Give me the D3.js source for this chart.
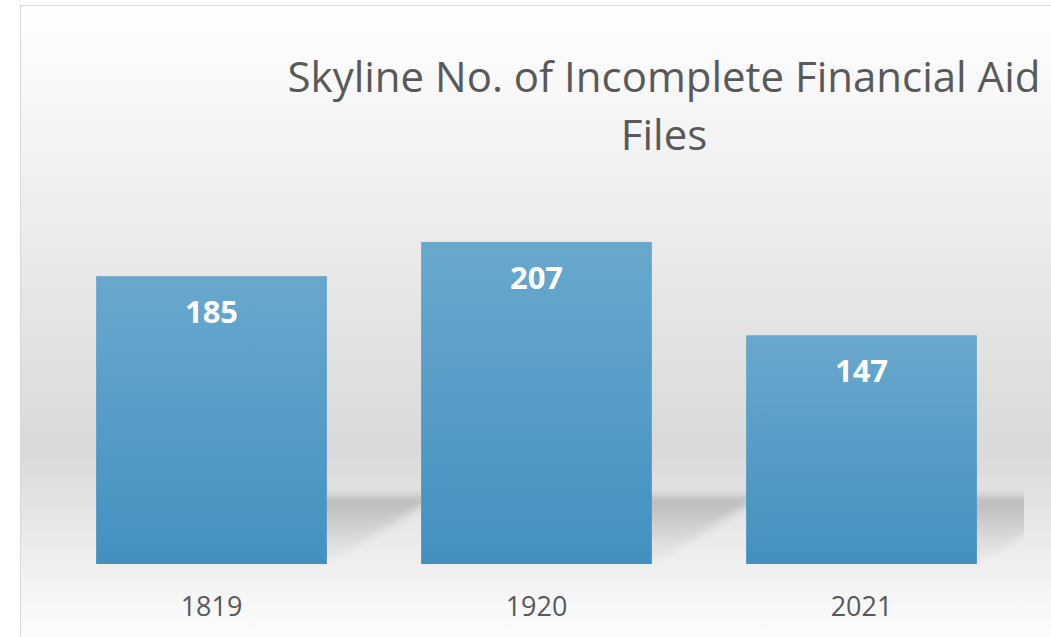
<!DOCTYPE html>
<html>
<head>
<meta charset="utf-8">
<script src="https://cdn.jsdelivr.net/npm/d3@7"></script>
<style>
  html, body { margin: 0; padding: 0; background: #fff; overflow: hidden; }
  svg { display: block; }
</style>
</head>
<body>
<div class="viz"></div>
<script>
// chart data
var categories = ["1819", "1920", "2021"];
var values = [185, 207, 147];
var titleLines = ["Skyline No. of Incomplete Financial Aid", "Files"];

var width = 1051,
  height = 637,
  margin = { top: 175, bottom: 73, left: 49, right: 27 };

var svg = d3
  .select(".viz")
  .append("svg")
  .attr("width", width)
  .attr("height", height);

var defs = svg.append("defs");

// chart area background gradient
var bg = defs
  .append("linearGradient")
  .attr("id", "bg")
  .attr("gradientUnits", "userSpaceOnUse")
  .attr("x1", 0).attr("x2", 0)
  .attr("y1", 5).attr("y2", 640);
bg.append("stop").attr("offset", "0").attr("stop-color", "#ffffff");
bg.append("stop").attr("offset", "0.22").attr("stop-color", "#f3f3f3");
bg.append("stop").attr("offset", "0.70").attr("stop-color", "#d9d9d9");
bg.append("stop").attr("offset", "0.90").attr("stop-color", "#f2f2f2");
bg.append("stop").attr("offset", "1").attr("stop-color", "#fdfdfd");

// bar fill gradient
var barGrad = defs
  .append("linearGradient")
  .attr("id", "barGrad")
  .attr("x1", 0).attr("x2", 0)
  .attr("y1", 0).attr("y2", 1);
barGrad.append("stop").attr("offset", "0").attr("stop-color", "#69a8cd");
barGrad.append("stop").attr("offset", "1").attr("stop-color", "#4390c0");

// shadow fade
var shGrad = defs
  .append("linearGradient")
  .attr("id", "shGrad")
  .attr("x1", 0).attr("x2", 0)
  .attr("y1", 0).attr("y2", 1);
shGrad.append("stop").attr("offset", "0").attr("stop-color", "#a8a8a8").attr("stop-opacity", 0.75);
shGrad.append("stop").attr("offset", "1").attr("stop-color", "#c8c8c8").attr("stop-opacity", 0.1);

defs.append("filter")
  .attr("id", "blur")
  .attr("x", "-20%").attr("y", "-40%")
  .attr("width", "140%").attr("height", "180%")
  .append("feGaussianBlur")
  .attr("stdDeviation", 4);

defs.append("clipPath")
  .attr("id", "plotClip")
  .append("rect")
  .attr("x", margin.left)
  .attr("y", 0)
  .attr("width", width - margin.right - margin.left)
  .attr("height", height - margin.bottom + 2);

svg
  .append("rect")
  .attr("x", 20.5)
  .attr("y", 5.5)
  .attr("width", 1100)
  .attr("height", 700)
  .attr("fill", "url(#bg)")
  .attr("stroke", "#d9d9d9")
  .attr("stroke-width", 1);

var x = d3
  .scaleBand()
  .domain(categories)
  .range([margin.left, width - margin.right])
  .paddingInner(0.29)
  .paddingOuter(0.145);

var y = d3
  .scaleLinear()
  .domain([0, 250])
  .range([height - margin.bottom, margin.top]);

// perspective shadows behind bars
var skewX = 110,
  skewY = 68;

svg
  .append("g")
  .attr("clip-path", "url(#plotClip)")
  .selectAll("path")
  .data(values)
  .enter()
  .append("path")
  .attr("d", function (d, i) {
    var x0 = x(categories[i]),
      x1 = x0 + x.bandwidth(),
      b = y(0);
    return (
      "M" + x0 + "," + b +
      "L" + x1 + "," + b +
      "L" + (x1 + skewX) + "," + (b - skewY) +
      "L" + (x0 + skewX) + "," + (b - skewY) + "Z"
    );
  })
  .attr("fill", "url(#shGrad)")
  .attr("filter", "url(#blur)");

// bars
svg
  .append("g")
  .selectAll("rect")
  .data(values)
  .enter()
  .append("rect")
  .attr("x", function (d, i) {
    return x(categories[i]);
  })
  .attr("y", function (d) {
    return y(d);
  })
  .attr("width", x.bandwidth())
  .attr("height", function (d) {
    return y(0) - y(d);
  })
  .attr("fill", "url(#barGrad)");

// value labels
svg
  .append("g")
  .selectAll("text")
  .data(values)
  .enter()
  .append("text")
  .attr("x", function (d, i) {
    return x(categories[i]) + x.bandwidth() / 2;
  })
  .attr("y", function (d) {
    return y(d) + 47;
  })
  .attr("text-anchor", "middle")
  .style("font-family", "'Open Sans', sans-serif")
  .style("font-weight", "bold")
  .style("font-size", "31px")
  .attr("fill", "#ffffff")
  .text(function (d) {
    return d;
  });

// category axis
var xAxis = svg
  .append("g")
  .attr("transform", "translate(0," + y(0) + ")")
  .call(d3.axisBottom(x).tickSize(0).tickPadding(0));
xAxis.select(".domain").remove();
xAxis
  .selectAll("text")
  .attr("dy", null)
  .attr("y", 52)
  .style("font-family", "'Open Sans', sans-serif")
  .style("font-size", "27px")
  .attr("fill", "#595959");

// title
var title = svg
  .append("text")
  .attr("text-anchor", "middle")
  .style("font-family", "'Open Sans', sans-serif")
  .style("font-size", "38px")
  .attr("fill", "#595959");

title
  .selectAll("tspan")
  .data(titleLines)
  .enter()
  .append("tspan")
  .attr("x", 664)
  .attr("y", function (d, i) {
    return 92 + i * 58;
  })
  .text(function (d) {
    return d;
  });

// fit first title line to the width it takes in the picture
var first = title.select("tspan").node();
var w = first.getComputedTextLength();
var fs = 38 * 753 / w;
title.style("font-size", fs + "px");
</script>
</body>
</html>
